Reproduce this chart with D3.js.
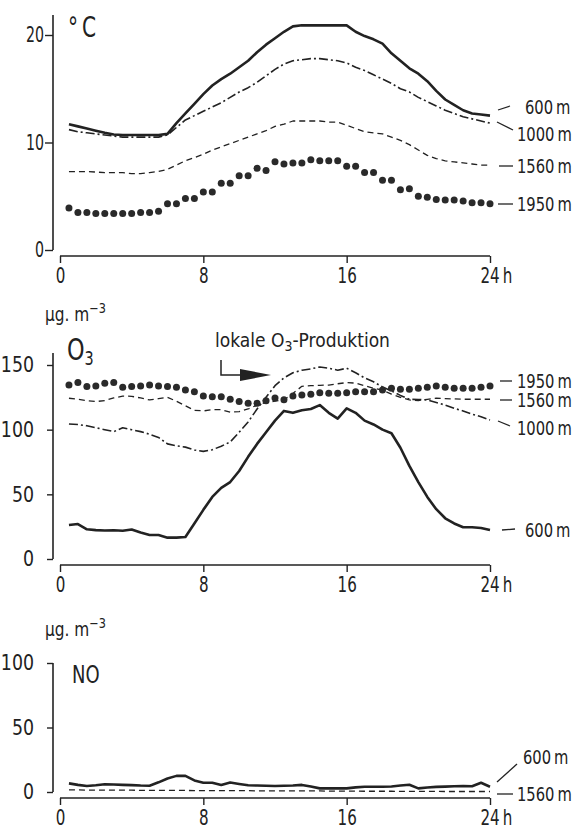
<!DOCTYPE html>
<html lang="de">
<head>
<meta charset="utf-8">
<title>Tagesgang Temperatur, O3, NO</title>
<script src="https://cdn.jsdelivr.net/npm/d3@7/dist/d3.min.js"></script>
<style>
body{ margin:0; background:#fff; }
svg{ display:block; }
text{ font-family:"DejaVu Sans Condensed","DejaVu Sans",sans-serif; fill:#222; }
</style>
</head>
<body>
<script>
// half-hour steps, 0.5 .. 24 h
var hours = [0.5,1,1.5,2,2.5,3,3.5,4,4.5,5,5.5,6,6.5,7,7.5,8,8.5,9,9.5,10,10.5,11,11.5,12,
             12.5,13,13.5,14,14.5,15,15.5,16,16.5,17,17.5,18,18.5,19,19.5,20,20.5,21,21.5,22,22.5,23,23.5,24];
var xTicks = [0, 8, 16, 24];

// temperature, degC
var temp600  = [11.7,11.5,11.3,11.1,10.9,10.75,10.7,10.7,10.7,10.7,10.7,10.8, 11.8,12.7,13.6,14.5,15.3,15.9,16.4,17.0,17.6,18.4,19.1,19.7,
                20.3,20.8,20.9,20.9,20.9,20.9,20.9,20.9,20.3,19.9,19.6,19.2, 18.3,17.6,16.9,16.4,15.7,14.8,14.0,13.5,13.0,12.7,12.6,12.5];
var temp1000 = [11.2,11.0,10.9,10.8,10.7,10.6,10.5,10.5,10.5,10.5,10.5,10.7, 11.4,12.1,12.5,12.9,13.3,13.7,14.2,14.7,15.1,15.6,16.2,16.8,
                17.3,17.6,17.7,17.8,17.8,17.7,17.6,17.4,17.0,16.7,16.3,15.9, 15.5,15.0,14.7,14.2,13.8,13.4,13.0,12.7,12.4,12.2,12.0,11.8];
var temp1560 = [7.3,7.3,7.3,7.25,7.2,7.2,7.2,7.1,7.1,7.2,7.3,7.5, 7.9,8.3,8.6,8.9,9.3,9.6,9.9,10.2,10.5,10.8,11.1,11.5,
                11.7,12.0,12.0,12.0,12.0,11.9,11.9,11.6,11.3,11.0,10.9,10.8, 10.5,10.2,9.8,9.3,8.8,8.5,8.3,8.2,8.1,8.0,7.9,7.9];
var temp1950 = [3.9,3.5,3.5,3.4,3.4,3.4,3.4,3.4,3.5,3.5,3.6,4.3, 4.3,4.8,4.8,5.4,5.4,6.2,6.2,6.9,6.9,7.6,7.4,8.2,
                8.0,8.1,8.1,8.4,8.3,8.3,8.3,7.8,7.8,7.2,7.2,6.5, 6.5,5.6,5.7,5.0,4.9,4.7,4.65,4.65,4.55,4.4,4.4,4.3];
var tempTicks = [0, 10, 20];

// ozone, ug/m3
var o3_600  = [26.3,27,23,22.3,22,22.2,21.8,22.8,20.5,18.5,18.5,16.5, 16.5,17,27.5,38,48,55,59.5,68,79,89,98,107,
               114.5,113,115,116,119,113,108.5,116.5,113,107,104,100, 97.2,86,72,59.5,48,38.5,31.5,27.5,24.5,24.5,24,22.4];
var o3_1000 = [104.4,104,103,101.5,100,98.5,101.5,100,98.5,96.5,94,89, 87.5,86.5,84.3,83.2,84.5,87.2,90.5,98,106,116,125,134,
               140,144,146,147,148.5,147.5,146,147.5,144,140,137,133, 130,126.5,123.5,123.3,123,121,119,116.5,114.5,112,110,107.5];
var o3_1560 = [124.3,123.5,122.5,121.7,122.5,124.5,126,125.8,124.5,123,124,125, 122,118.5,115,114.5,115.5,115.5,113.5,114,116,119,121,122,
               123,128,133.5,134,134.3,134.5,135.5,136.4,136,134,132,130.5, 127.5,125,123,122.5,123.5,124.3,124,123.8,123.5,123.5,123.5,123.5];
var o3_1950 = [134.6,136.4,133.3,133.8,135.9,136.4,132.8,133.3,133.8,134.6,133.8,133.3, 132.8,130.7,129.4,126.1,125.5,125.5,123.5,121.7,120.5,120.5,122.3,124.4,
               123.1,126.1,126.8,127.4,128.6,128.2,128.2,128.6,129.4,129.4,129.4,130.7, 132.0,131.3,131.3,132.0,132.8,133.8,132.8,132.0,132.0,132.0,132.8,133.8];
var o3Ticks = [0, 50, 100, 150];

// nitrogen monoxide, ug/m3
var no600  = [6.7,5.5,4.6,5.2,6.0,5.8,5.5,5.3,5.0,4.9,7.5,10.5, 12.5,12.5,9.0,7.2,7.2,5.4,7.3,6.2,5.2,5.0,4.8,4.6,
              4.8,5.0,5.5,4.2,2.8,2.8,2.8,2.8,3.6,4.1,4.1,4.1, 4.3,5.0,5.6,2.8,3.5,4.0,4.2,4.4,4.6,4.4,7.2,4.1];
var no1560 = [1.6,1.6,1.5,1.5,1.5,1.4,1.4,1.4,1.3,1.3,1.3,1.2, 1.2,1.2,1.1,1.1,1.1,1.0,1.0,1.0,1.0,0.9,0.9,0.9,
              0.9,0.8,0.8,0.8,0.8,0.7,0.7,0.7,0.7,0.6,0.6,0.6, 0.6,0.5,0.5,0.5,0.5,0.5,0.4,0.4,0.4,0.4,0.4,0.4];
var noTicks = [0, 50, 100];

var w = 578, h = 825;
var ink = "#222";

var svg = d3.select("body").append("svg")
    .attr("width", w)
    .attr("height", h);

// squeeze text horizontally around its own x anchor (the original uses a narrow DIN face)
function squeeze(sel, k) {
    k = k || 0.8;
    sel.each(function() {
        var t = d3.select(this);
        var ax = +t.attr("x") || 0;
        t.attr("transform", "translate(" + ax + ",0) scale(" + k + ",1) translate(" + (-ax) + ",0)");
    });
}

// shared time axis
var x = d3.scaleLinear().domain([0, 24]).range([60, 490]);

// line styles per height level
var styles = {
    "600":  { kind: "line", width: 2.6, dash: null },
    "1000": { kind: "line", width: 1.6, dash: "9,3,2,3" },
    "1560": { kind: "line", width: 1.3, dash: "6,4" },
    "1950": { kind: "dots" }
};

function drawPanel(p) {
    var y = d3.scaleLinear().domain(p.domain).range(p.range);
    var g = svg.append("g");

    // y spine, a bit longer than the top tick
    g.append("line")
        .attr("x1", 53).attr("x2", 53)
        .attr("y1", p.spineTop).attr("y2", y(0))
        .attr("stroke", ink).attr("stroke-width", 1.6);

    var yAxis = g.append("g")
        .attr("transform", "translate(53,0)")
        .call(d3.axisLeft(y).tickValues(p.ticks).tickSize(p.tickLen).tickPadding(p.tickPad));
    yAxis.select(".domain").remove();
    yAxis.selectAll("line").attr("stroke", ink).attr("stroke-width", 1.4);
    yAxis.selectAll("text").attr("font-size", 21).attr("fill", ink)
        .style("font-family", null).call(squeeze, p.yNarrow);

    // x axis, separate from the y spine
    g.append("line")
        .attr("x1", x(0)).attr("x2", x(24))
        .attr("y1", p.xAxisY).attr("y2", p.xAxisY)
        .attr("stroke", ink).attr("stroke-width", 1.6);
    var xAxis = g.append("g")
        .attr("transform", "translate(0," + p.xAxisY + ")")
        .call(d3.axisBottom(x).tickValues(xTicks).tickSize(7).tickPadding(5)
            .tickFormat(function(d){ return d == 24 ? "24\u2009h" : d; }));
    xAxis.select(".domain").remove();
    xAxis.selectAll("line").attr("stroke", ink).attr("stroke-width", 1.4);
    xAxis.selectAll(".tick").filter(function(d){ return d == 24; })
        .select("text").attr("text-anchor", "start").attr("x", -10);
    xAxis.selectAll("text").attr("font-size", 21).attr("fill", ink)
        .style("font-family", null).call(squeeze);

    // series
    p.series.forEach(function(s) {
        var st = styles[s.level];
        if (st.kind == "dots") {
            g.selectAll(null)
                .data(s.values)
                .enter()
                .append("circle")
                .attr("cx", function(d, i){ return x(hours[i]); })
                .attr("cy", function(d){ return y(d); })
                .attr("r", 3.5)
                .attr("fill", "#2a2a2a");
        } else {
            var line = d3.line()
                .x(function(d, i){ return x(hours[i]); })
                .y(function(d){ return y(d); });
            g.append("path")
                .datum(s.values)
                .attr("d", line)
                .attr("fill", "none")
                .attr("stroke", ink)
                .attr("stroke-width", st.width)
                .attr("stroke-dasharray", st.dash)
                .attr("stroke-linejoin", "round");
        }
    });

    // height labels on the right with their little leader strokes
    p.labels.forEach(function(l) {
        g.append("line")
            .attr("x1", l.lead[0]).attr("y1", l.lead[1])
            .attr("x2", l.lead[2]).attr("y2", l.lead[3])
            .attr("stroke", ink).attr("stroke-width", 1.3);
        g.append("text")
            .attr("x", l.x).attr("y", l.y)
            .attr("dy", "0.36em")
            .attr("font-size", 20)
            .text(l.text + "\u2009m")
            .call(squeeze, 0.82);
    });
    return g;
}

// temperature panel
var tempPanel = drawPanel({
    domain: [0, 20], range: [250, 35], spineTop: 15, ticks: tempTicks,
    tickLen: 8, tickPad: 1, yNarrow: 0.75, xAxisY: 256,
    series: [
        { level: "600", values: temp600 },
        { level: "1000", values: temp1000 },
        { level: "1560", values: temp1560 },
        { level: "1950", values: temp1950 }
    ],
    labels: [
        { text: "600", x: 525, y: 107, lead: [498, 110, 510, 106] },
        { text: "1000", x: 517, y: 134, lead: [497, 122, 513, 130] },
        { text: "1560", x: 517, y: 166, lead: [499, 166, 513, 166] },
        { text: "1950", x: 517, y: 204, lead: [498, 204, 513, 204] }
    ]
});
tempPanel.append("text").attr("x", 68).attr("y", 37).attr("font-size", 28)
    .text("°\u2009C").call(squeeze);

// ozone panel
var o3Panel = drawPanel({
    domain: [0, 150], range: [559, 365], spineTop: 353, ticks: o3Ticks,
    tickLen: 6, tickPad: 13, yNarrow: 0.92, xAxisY: 565,
    series: [
        { level: "600", values: o3_600 },
        { level: "1000", values: o3_1000 },
        { level: "1560", values: o3_1560 },
        { level: "1950", values: o3_1950 }
    ],
    labels: [
        { text: "1950", x: 517, y: 381, lead: [500, 381, 512, 381] },
        { text: "1560", x: 517, y: 400, lead: [500, 400, 512, 400] },
        { text: "1000", x: 517, y: 428, lead: [498, 421, 510, 426] },
        { text: "600", x: 525, y: 530, lead: [502, 530, 515, 529] }
    ]
});
var unitMid = o3Panel.append("text").attr("x", 45).attr("y", 321).attr("font-size", 19);
unitMid.append("tspan").text("µg. m");
unitMid.append("tspan").attr("dy", -8).attr("font-size", 14).text("−3");
unitMid.call(squeeze, 0.9);
var o3Title = o3Panel.append("text").attr("x", 67).attr("y", 360).attr("font-size", 31);
o3Title.append("tspan").text("O");
o3Title.append("tspan").attr("dy", 5).attr("font-size", 20).text("3");
o3Title.call(squeeze);

var note = o3Panel.append("text").attr("x", 215).attr("y", 347).attr("font-size", 19);
note.append("tspan").text("lokale O");
note.append("tspan").attr("dy", 4).attr("font-size", 14).text("3");
note.append("tspan").attr("dy", -4).text("-Produktion");
o3Panel.append("path")
    .attr("d", "M221,360 V375 H242")
    .attr("fill", "none").attr("stroke", ink).attr("stroke-width", 1.5);
o3Panel.append("path")
    .attr("d", "M240,369 L271,375 L240,381 Z")
    .attr("fill", ink);

// NO panel
var noPanel = drawPanel({
    domain: [0, 100], range: [792, 663], spineTop: 663, ticks: noTicks,
    tickLen: 6, tickPad: 13, yNarrow: 0.92, xAxisY: 798,
    series: [
        { level: "600", values: no600 },
        { level: "1560", values: no1560 }
    ],
    labels: [
        { text: "600", x: 523, y: 757, lead: [497, 782, 517, 764] },
        { text: "1560", x: 517, y: 794, lead: [497, 794, 513, 794] }
    ]
});
var unitBot = noPanel.append("text").attr("x", 45).attr("y", 636).attr("font-size", 19);
unitBot.append("tspan").text("µg. m");
unitBot.append("tspan").attr("dy", -8).attr("font-size", 14).text("−3");
unitBot.call(squeeze, 0.9);
noPanel.append("text").attr("x", 72).attr("y", 683).attr("font-size", 25).text("NO").call(squeeze);
</script>
</body>
</html>
